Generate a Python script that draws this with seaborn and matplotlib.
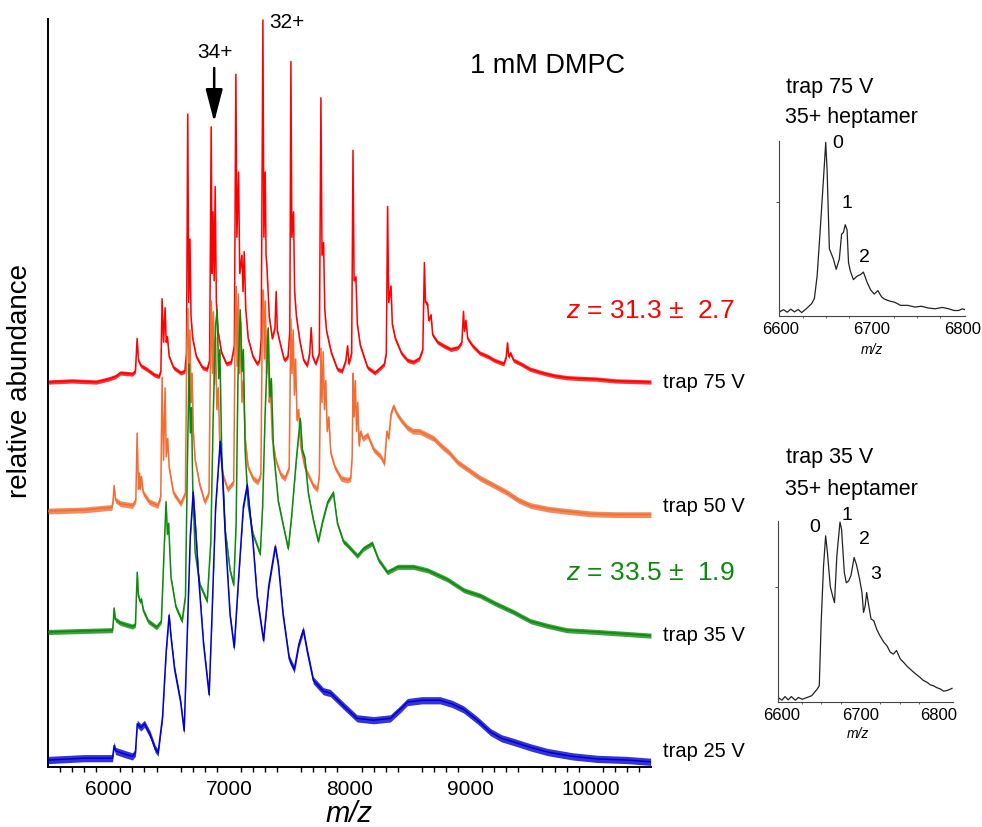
import numpy as np
import pandas as pd
import matplotlib
matplotlib.use("Agg")
import matplotlib.pyplot as plt
import seaborn as sns
from matplotlib.ticker import MultipleLocator, FuncFormatter, FixedLocator

sns.set_theme(style="white")
plt.rcParams['font.family'] = ['Liberation Sans', 'DejaVu Sans']
plt.rcParams['mathtext.fontset'] = 'custom'
plt.rcParams['mathtext.it'] = 'Liberation Sans:italic'
plt.rcParams['mathtext.rm'] = 'Liberation Sans'
plt.rcParams['text.color'] = 'black'
plt.rcParams['xtick.color'] = 'black'
plt.rcParams['ytick.color'] = 'black'
plt.rcParams['axes.labelcolor'] = 'black'

# ---------------- data (m/z, relative abundance %) ----------------
red_points = [(5500,0),(5700,0.3),(5900,0),(6000,0.8),(6060,1.5),(6100,2.5),(6200,2.2),(6225,3),(6239,12),(6250,6),
    (6270,4.5),(6320,3.5),(6380,2),(6420,1.5),(6436,3),(6446,23),(6458,11),(6471,20.5),(6480,11),(6490,12.5),
    (6505,7),(6540,4),(6600,2.5),(6635,3),(6648,8),(6659,74),(6667,22),(6677,39.5),(6686,18),(6700,12),
    (6730,7),(6780,4),(6820,3.5),(6840,6),(6853,70.5),(6861,30),(6868,47),(6878,28),(6886,54),(6896,22),
    (6910,14),(6940,8),(6980,5),(7020,5.5),(7045,10),(7058,85),(7066,40),(7080,58),(7090,30),(7108,35),
    (7117,25),(7127,36),(7140,20),(7160,12),(7200,7),(7235,5),(7255,6),(7268,12),(7282,100),(7290,40),
    (7301,58),(7308,35),(7315,32),(7335,18),(7360,12),(7382,15),(7392,25),(7402,14),(7430,10),(7460,6),
    (7490,7),(7505,14),(7514,88.5),(7522,40),(7536,47),(7545,25),(7560,18),(7590,11),(7620,6),(7650,4.5),
    (7670,8),(7682,15),(7695,7),(7720,5),(7750,8),(7763,78.5),(7772,35),(7785,38.5),(7795,20),(7810,14),
    (7850,8),(7900,3.5),(7940,3),(7970,6),(7984,10),(7995,5),(8018,8),(8029,64),(8038,28),(8053,29),
    (8065,16),(8090,10),(8150,4),(8210,2.5),(8260,4),(8290,5),(8305,8),(8316,48.5),(8325,22),(8344,26.5),
    (8355,16),(8380,12),(8430,8),(8480,6),(8530,5.5),(8580,6.5),(8608,9),(8621,33),(8630,22),(8648,21.5),
    (8657,17),(8676,18.5),(8690,13),(8730,11),(8780,10),(8840,9),(8900,9.5),(8932,11),(8945,19.5),(8953,14),
    (8965,17),(8980,12),(9020,10),(9080,8),(9150,7),(9200,6),(9280,5),(9300,7),(9310,10.8),(9320,7),
    (9335,8),(9360,6),(9420,5),(9500,3.5),(9600,2.5),(9700,1.7),(9800,1.2),(9900,1),(10050,0.8),(10200,0.3),
    (10500,0)]

orange_points = [(5500,0),(5800,0.3),(6030,1),(6040,3),(6048,7),(6060,3),(6100,2),(6200,1.5),(6228,3),(6239,21.5),
    (6250,6),(6258,10.5),(6266,6),(6274,9.5),(6290,5),(6340,2.5),(6410,1.5),(6435,4),(6446,37),(6458,14),
    (6471,34),(6480,15),(6492,20),(6505,12),(6540,5),(6600,2),(6640,5),(6650,45),(6660,56),(6668,35),
    (6677,50),(6686,30),(6695,38),(6705,22),(6720,14),(6760,7),(6800,2.5),(6835,5),(6848,45),(6855,58),
    (6864,38),(6872,55),(6880,35),(6890,48),(6900,28),(6912,34),(6925,18),(6950,10),(6990,6),(7040,8),
    (7052,50),(7060,62),(7068,40),(7078,60),(7088,38),(7098,52),(7108,30),(7120,36),(7135,20),(7160,12),
    (7200,9),(7240,8),(7265,10),(7278,55),(7285,61),(7295,42),(7302,58),(7312,38),(7322,50),(7335,30),
    (7345,34),(7360,20),(7390,14),(7430,10),(7465,9),(7500,12),(7514,53),(7523,38),(7533,50),(7543,32),
    (7553,42),(7565,25),(7578,28),(7595,18),(7630,12),(7700,7),(7735,6),(7750,10),(7763,45),(7772,30),
    (7782,44),(7792,28),(7803,36),(7815,22),(7828,26),(7845,16),(7880,12),(7930,9),(7985,8.5),(8010,9),
    (8022,15),(8030,38),(8038,26),(8048,36),(8058,22),(8068,30),(8080,18),(8092,22),(8110,20),(8150,21),
    (8200,17),(8260,15),(8290,13),(8310,22),(8325,20),(8345,27),(8365,29),(8390,27),(8430,25),(8480,23),
    (8530,22),(8580,22),(8640,21),(8700,20),(8760,18),(8830,16),(8895,13.5),(8980,11.5),(9086,9),(9200,7),
    (9310,5),(9400,3),(9500,1.5),(9650,0.5),(9775,0),(10000,-0.8),(10200,-1),(10500,-1)]

green_points = [(5500,0),(5800,0.3),(6035,0.5),(6042,3),(6048,6.6),(6058,3.5),(6100,2.5),(6200,1.5),(6225,2),(6240,16.5),
    (6250,10),(6262,8.5),(6275,9),(6290,6),(6330,3),(6400,1.3),(6440,3),(6462,22),(6479,36),(6490,27),
    (6500,30),(6520,15),(6560,7),(6612,3),(6640,10),(6655,45),(6670,74),(6680,55),(6690,62),(6700,40),
    (6720,22),(6760,13),(6820,8.5),(6850,25),(6870,60),(6890,85),(6903,89),(6915,70),(6925,78),(6940,50),
    (6970,28),(7010,17),(7040,13),(7060,30),(7075,70),(7094,89),(7110,72),(7120,78),(7135,50),(7160,35),
    (7200,27),(7260,21.5),(7280,35),(7300,60),(7326,84),(7340,65),(7352,70),(7370,50),(7410,36),(7460,28),
    (7492,23),(7520,32),(7560,48),(7592,59),(7610,50),(7630,48),(7660,38),(7700,31),(7741,25),(7780,31),
    (7820,36),(7866,38.5),(7900,30),(7949,25),(7982,24),(8065,21),(8115,23),(8189,24.5),(8240,20),(8314,16.5),
    (8400,18),(8530,18),(8650,17),(8812,14.5),(8950,11.5),(9086,10),(9200,8),(9360,5.5),(9500,3),(9642,1.7),
    (9800,0.5),(10057,0),(10500,-1)]

blue_points = [(5500,0),(5800,0.5),(6035,0.5),(6048,4),(6060,2.5),(6150,1.5),(6200,1),(6225,2),(6240,10),(6270,9),
    (6300,10),(6347,7),(6390,3),(6413,2),(6450,12),(6480,30),(6504,40),(6520,34),(6550,25),(6600,16),
    (6629,8),(6655,35),(6680,62),(6704,74),(6720,66),(6750,50),(6790,32),(6836,18),(6860,40),(6890,70),
    (6928,88),(6945,80),(6970,62),(7010,40),(7044,31),(7080,50),(7120,70),(7152,76),(7170,70),(7200,60),
    (7235,45),(7287,33),(7330,48),(7384,59),(7410,54),(7450,40),(7500,28),(7542,25),(7580,32),(7617,36),
    (7650,30),(7700,22),(7783,19),(7841,18.5),(7950,15),(8062,11.5),(8200,11),(8339,11.5),(8420,14),(8480,16),
    (8600,16.5),(8750,16.5),(8850,15.5),(8945,14),(9060,11),(9169,7.7),(9260,6),(9360,5),(9500,3.5),(9642,2.2),
    (9850,1),(10057,0.3),(10300,0),(10497,-0.5)]

inset75_points = [(6598,1),(6603,2.5),(6607,1),(6611,2.8),(6615,1.2),(6619,2.6),(6623,0.8),(6628,3),(6634,6),(6637,9),
    (6640,22),(6643,45.5),(6647,78.5),(6649.5,100),(6651,84),(6653.5,38),(6658,32),(6661,26),(6664.5,32),(6667,46.5),
    (6669,47.5),(6671,52),(6673,49),(6674.6,30),(6676.6,25),(6680,20),(6684,22),(6688,23),(6691,24.4),(6695,18.6),
    (6699,14),(6703,11.6),(6707,13.6),(6711,10),(6714,8.7),(6720,7.5),(6725.6,6.8),(6732,5),(6740,5),(6748,4),
    (6755,4.5),(6762,3.5),(6770,3),(6778,3.8),(6785,3),(6791,2),(6796,2),(6800,3),(6803,2.5)]

inset35_points = [(6595,2.6),(6600,1),(6604,3),(6608,1.2),(6612,3),(6617,1),(6621,2.5),(6626,1.5),(6632,2.5),(6638,3.5),
    (6644.7,7),(6647.6,9),(6650,44),(6653,75),(6655.7,92),(6658,82.7),(6661.6,64),(6664.6,58.7),(6667,55),(6670,81),
    (6674,99.6),(6676,95.6),(6679.5,71.7),(6682,66),(6685,67),(6688,70),(6692,80),(6695,76),(6699,68),(6702,60.6),
    (6704,49.6),(6706,53),(6708,60.6),(6710,55),(6713.5,46),(6717,45),(6721,40),(6725,36.6),(6730,33),(6734,31),
    (6738,27.6),(6742,26.5),(6746,28.5),(6751,23.7),(6755,22),(6759,20),(6764,18),(6768,16.4),(6772,15),(6776,13.6),
    (6780,12),(6785,10.9),(6789,9.5),(6793,9),(6797,8),(6802,7.2),(6806,6),(6810,6.3),(6814,7),(6817,7.6)]

trace_labels = ["trap 75 V", "trap 50 V", "trap 35 V", "trap 25 V"]
charge_texts = ["$z$ = 31.3 \u00b1  2.7", "$z$ = 33.5 \u00b1  1.9"]
xtick_values = [6000, 7000, 8000, 9000, 10000]
inset_ticks = [6600, 6700, 6800]

# ---------------- layout / style ----------------
W, H = 982, 828
fig = plt.figure(figsize=(W / 100, H / 100), dpi=100)


def rect(l, t, r, b):
    return [l / W, 1 - b / H, (r - l) / W, (b - t) / H]


def ftext(x, y, s, **kw):
    kw.setdefault('va', 'center')
    kw.setdefault('ha', 'left')
    kw.setdefault('color', 'black')
    fig.text(x / W, 1 - y / H, s, **kw)


ax = fig.add_axes(rect(48, 20, 651, 768))
PX_PER_UNIT = 3.62
ymax = (768 - 20) / PX_PER_UNIT


def y_of(py):
    return (768 - py) / PX_PER_UNIT


traces = [
    (red_points, '#ff0000', y_of(383), 0.6, 2),
    (orange_points, '#f26d33', y_of(512), 0.8, 3),
    (green_points, '#0b8a0b', y_of(633), 0.7, 4),
    (blue_points, '#0000d0', y_of(761), 1.0, 5),
]
for pts, col, off, band, z in traces:
    df = pd.DataFrame(pts, columns=['mz', 'ab'])
    df['y'] = df['ab'] + off
    ax.fill_between(df['mz'], df['y'] - band, df['y'] + band, color=col, alpha=0.8, lw=0, zorder=z)
    sns.lineplot(data=df, x='mz', y='y', ax=ax, color=col, lw=1.1, estimator=None, sort=False,
                 legend=False, zorder=z)

ax.set_xlim(5500, 10500)
ax.set_ylim(0, ymax)
ax.set_yticks([])
ax.xaxis.set_major_locator(MultipleLocator(500))
ax.xaxis.set_minor_locator(MultipleLocator(100))
ax.xaxis.set_major_formatter(FuncFormatter(lambda v, p: f"{int(round(v))}" if int(round(v)) in xtick_values else ""))
ax.tick_params(axis='x', which='major', direction='out', length=6, width=1.2, pad=3, labelsize=15,
               colors='black', labelcolor='black')
ax.tick_params(axis='x', which='minor', direction='out', length=3.5, width=1.0, bottom=True, colors='black')
for s in ['top', 'right']:
    ax.spines[s].set_visible(False)
for s in ['left', 'bottom']:
    ax.spines[s].set_color('black')
    ax.spines[s].set_linewidth(1.4)
ax.set_xlabel('')
ax.set_ylabel('')
ftext(349, 814, 'm/z', ha='center', fontsize=21, style='italic')
ftext(20, 381, 'relative abundance', ha='center', fontsize=20, rotation=90)

# annotations
ax.annotate('', xy=(6878, y_of(123)), xytext=(6878, y_of(69)),
            arrowprops=dict(arrowstyle='-|>,head_length=1.0,head_width=0.26', color='black', lw=1.8,
                            mutation_scale=20, shrinkA=0, shrinkB=0))
ftext(215, 53, '34+', ha='center', fontsize=15)
ftext(269, 22, '32+', fontsize=15)
ftext(470, 66, '1 mM DMPC', fontsize=19.5)
ftext(566, 311, charge_texts[0], fontsize=19, color='#ff0000')
ftext(566, 573, charge_texts[1], fontsize=19, color='#0b8a0b')
for lab, py in zip(trace_labels, [383, 507, 636, 752]):
    ftext(663, py, lab, fontsize=14.5)


# ---------------- insets ----------------
def make_inset(r, pts, xlim, ylim, ytick):
    a = fig.add_axes(r)
    df = pd.DataFrame(pts, columns=['mz', 'ab'])
    sns.lineplot(data=df, x='mz', y='ab', ax=a, color='#222222', lw=0.9, estimator=None, sort=False, legend=False)
    a.set_xlim(*xlim)
    a.set_ylim(*ylim)
    a.xaxis.set_major_locator(FixedLocator(inset_ticks))
    a.xaxis.set_minor_locator(MultipleLocator(25))
    a.set_yticks([ytick])
    a.set_yticklabels([])
    a.tick_params(axis='x', which='major', direction='out', length=2, width=0.7, pad=1.5, labelsize=12,
                  colors='#444444', labelcolor='black')
    a.tick_params(axis='x', which='minor', direction='out', length=1.5, width=0.6, bottom=True, colors='#444444')
    a.tick_params(axis='y', direction='out', length=2.5, width=0.7, left=True, colors='#444444')
    for s in ['top', 'right']:
        a.spines[s].set_visible(False)
    for s in ['left', 'bottom']:
        a.spines[s].set_color('#444444')
        a.spines[s].set_linewidth(0.8)
    a.set_xlabel('')
    a.set_ylabel('')
    a.patch.set_alpha(0)
    return a


make_inset(rect(779, 142, 965, 317), inset75_points, (6598, 6803), (-1.2, 100.8), 65)
ftext(786, 88, 'trap 75 V', fontsize=15.5)
ftext(785, 118, '35+ heptamer', fontsize=15.5)
ftext(838, 143, '0', ha='center', fontsize=14)
ftext(847, 203, '1', ha='center', fontsize=14)
ftext(864, 258, '2', ha='center', fontsize=14)
ftext(872, 350, 'm/z', ha='center', fontsize=10, style='italic')

make_inset(rect(778, 522, 953, 703), inset35_points, (6595, 6818), (0, 100.2), 63.5)
ftext(786, 458, 'trap 35 V', fontsize=15.5)
ftext(785, 490, '35+ heptamer', fontsize=15.5)
ftext(815, 528, '0', ha='center', fontsize=14)
ftext(847, 516, '1', ha='center', fontsize=14)
ftext(864, 540, '2', ha='center', fontsize=14)
ftext(876, 575, '3', ha='center', fontsize=14)
ftext(858, 734, 'm/z', ha='center', fontsize=10, style='italic')

fig.savefig('out.png', dpi=100)
